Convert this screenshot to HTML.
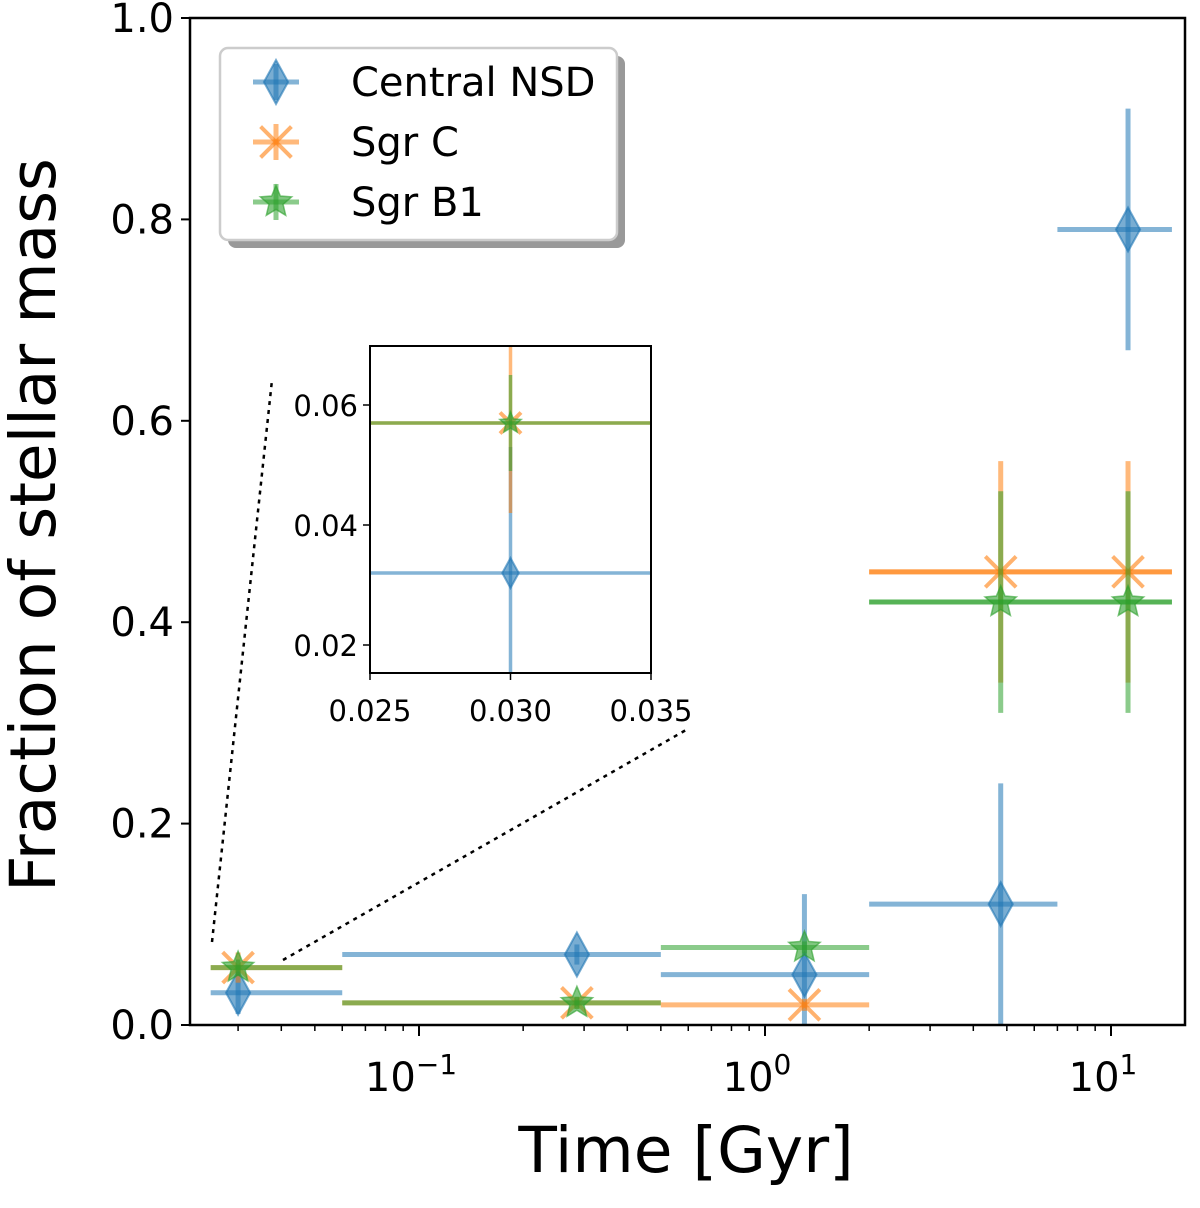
<!DOCTYPE html>
<html><head><meta charset="utf-8"><style>
body{margin:0;background:#fff;}
svg text{font-family:"DejaVu Sans","Liberation Sans",sans-serif;fill:#000;}
</style></head><body>
<svg id="c" width="1200" height="1203" xmlns="http://www.w3.org/2000/svg"></svg>
<script>
const series = ["Central NSD","Sgr C","Sgr B1"];
const colors = ["#1f77b4","#ff7f0e","#2ca02c"];
const times = [[0.03,0.286,1.3,4.8,11.2],[0.03,0.286,1.3,4.8,11.2],[0.03,0.286,1.3,4.8,11.2]];
const tLo = [[0.025,0.06,0.5,2,7],[0.025,0.06,0.5,2,2],[0.025,0.06,0.5,2,2]];
const tHi = [[0.06,0.5,2,7,15],[0.06,0.5,2,15,15],[0.06,0.5,2,15,15]];
const fracs = [[0.032,0.07,0.05,0.12,0.79],[0.057,0.022,0.02,0.45,0.45],[0.057,0.022,0.077,0.42,0.42]];
const ferr = [[0.021,0.01,0.08,0.12,0.12],[0.015,0.006,0.006,0.11,0.11],[0.008,0.006,0.006,0.11,0.11]];
const yTicks = [0,0.2,0.4,0.6,0.8,1.0];
const insetX = [0.025,0.030,0.035];
const insetY = [0.02,0.04,0.06];

const NS="http://www.w3.org/2000/svg", svg=document.getElementById('c');
function el(t,a,p){const e=document.createElementNS(NS,t);for(const k in a)e.setAttribute(k,a[k]);(p||svg).appendChild(e);return e;}
const X=t=>765+346*Math.log10(t), Y=v=>1025-v*1007;
const L=190,R=1185,T=18,B=1025;

function marker(g,i,cx,cy,s){
  const c=colors[i];
  if(i===0){el('path',{d:`M${cx},${cy-s} L${cx+s*0.55},${cy} L${cx},${cy+s} L${cx-s*0.55},${cy} Z`,fill:c,'fill-opacity':0.6,stroke:c,'stroke-opacity':0.6,'stroke-width':2},g);}
  else if(i===1){const d=s*0.7;el('path',{d:`M${cx-d},${cy-d}L${cx+d},${cy+d}M${cx-d},${cy+d}L${cx+d},${cy-d}`,stroke:c,'stroke-opacity':0.6,'stroke-width':4},g);}
  else{const s2=s*0.75;let p='';for(let k=0;k<10;k++){const r=k%2?s2*0.45:s2;const a=-Math.PI/2+k*Math.PI/5;p+=(k?'L':'M')+(cx+r*Math.cos(a))+','+(cy+r*Math.sin(a));}el('path',{d:p+'Z',fill:c,'fill-opacity':0.6,stroke:c,'stroke-opacity':0.6,'stroke-width':1.5},g);}
}
function drawSeries(xf,yf,clip,ms,lw){
  for(let i=0;i<3;i++){
    const g=el('g',clip?{'clip-path':clip}:{});
    
    
    for(let j=0;j<times[i].length;j++){
      const c=colors[i];
      el('line',{x1:xf(tLo[i][j]),x2:xf(tHi[i][j]),y1:yf(fracs[i][j]),y2:yf(fracs[i][j]),stroke:c,'stroke-opacity':0.55,'stroke-width':lw},g);
      el('line',{x1:xf(times[i][j]),x2:xf(times[i][j]),y1:yf(fracs[i][j]-ferr[i][j]),y2:yf(fracs[i][j]+ferr[i][j]),stroke:c,'stroke-opacity':0.55,'stroke-width':lw},g);
      marker(g,i,xf(times[i][j]),yf(fracs[i][j]),ms);
    }
  }
}
const defs=el('defs',{});
const cp=el('clipPath',{id:'mc'},defs);el('rect',{x:L,y:T,width:R-L,height:B-T},cp);
const cp2=el('clipPath',{id:'ic'},defs);el('rect',{x:370,y:346,width:281,height:327},cp2);

drawSeries(X,Y,'url(#mc)',22,5);

const fr=el('rect',{x:L,y:T,width:R-L,height:B-T,fill:'none',stroke:'#000','stroke-width':2.5});

yTicks.forEach(v=>{el('line',{x1:L-9,x2:L,y1:Y(v),y2:Y(v),stroke:'#000','stroke-width':2});
  const t=el('text',{x:L-16,y:Y(v)+14,'text-anchor':'end','font-size':40});t.textContent=v.toFixed(1);
  });
[-1,0,1].forEach(e=>{const x=X(Math.pow(10,e));el('line',{x1:x,x2:x,y1:B,y2:B+11,stroke:'#000','stroke-width':2});
  const t=el('text',{x:x-8,y:B+66,'text-anchor':'middle','font-size':40});t.textContent='10';
  const s=el('tspan',{dy:-17,'font-size':28},t);s.textContent=e===-1?'\u22121':String(e);
  });
for(let e=-2;e<=1;e++)for(let m=2;m<=9;m++){const v=m*Math.pow(10,e);const x=X(v);if(x>L&&x<R)el('line',{x1:x,x2:x,y1:B,y2:B+6,stroke:'#000','stroke-width':1.5});}
let t=el('text',{x:686,y:1172,'text-anchor':'middle','font-size':63});t.textContent='Time [Gyr]';

t=el('text',{x:0,y:0,'text-anchor':'middle','font-size':63,transform:'translate(55,525) rotate(-90)'});t.textContent='Fraction of stellar mass';


const lg=el('g',{});
el('rect',{x:228,y:56,width:397,height:192,rx:8,fill:'#999'},lg);
el('rect',{x:220,y:48,width:397,height:192,rx:8,fill:'#fff',stroke:'#ccc','stroke-width':2.5},lg);
series.forEach((s,i)=>{const y=82+i*60;
  el('line',{x1:253,x2:299,y1:y,y2:y,stroke:colors[i],'stroke-opacity':0.55,'stroke-width':5},lg);
  el('line',{x1:276,x2:276,y1:y-18,y2:y+18,stroke:colors[i],'stroke-opacity':0.55,'stroke-width':5},lg);
  marker(lg,i,276,y,22);
  const tt=el('text',{x:351,y:y+14,'font-size':40},lg);tt.textContent=s;
  });

const IX=v=>370+(v-0.025)/0.01*281, IY=v=>645-(v-0.02)/0.02*120;
el('rect',{x:370,y:346,width:281,height:327,fill:'#fff'});
el('line',{x1:212,y1:942,x2:272,y2:380,stroke:'#000','stroke-width':2.5,'stroke-dasharray':'4,5'});
el('line',{x1:283,y1:960,x2:686,y2:730,stroke:'#000','stroke-width':2.5,'stroke-dasharray':'4,5'});
drawSeries(IX,IY,'url(#ic)',15,3.5);
const ib=el('rect',{x:370,y:346,width:281,height:327,fill:'none',stroke:'#000','stroke-width':2});

insetY.forEach(v=>{el('line',{x1:363,x2:370,y1:IY(v),y2:IY(v),stroke:'#000','stroke-width':1.5});
  const tt=el('text',{x:358,y:IY(v)+11,'text-anchor':'end','font-size':29});tt.textContent=v.toFixed(2);
  });
insetX.forEach(v=>{el('line',{x1:IX(v),x2:IX(v),y1:673,y2:680,stroke:'#000','stroke-width':1.5});
  const tt=el('text',{x:IX(v),y:721,'text-anchor':'middle','font-size':29});tt.textContent=v.toFixed(3);
  });
</script>
</body></html>
